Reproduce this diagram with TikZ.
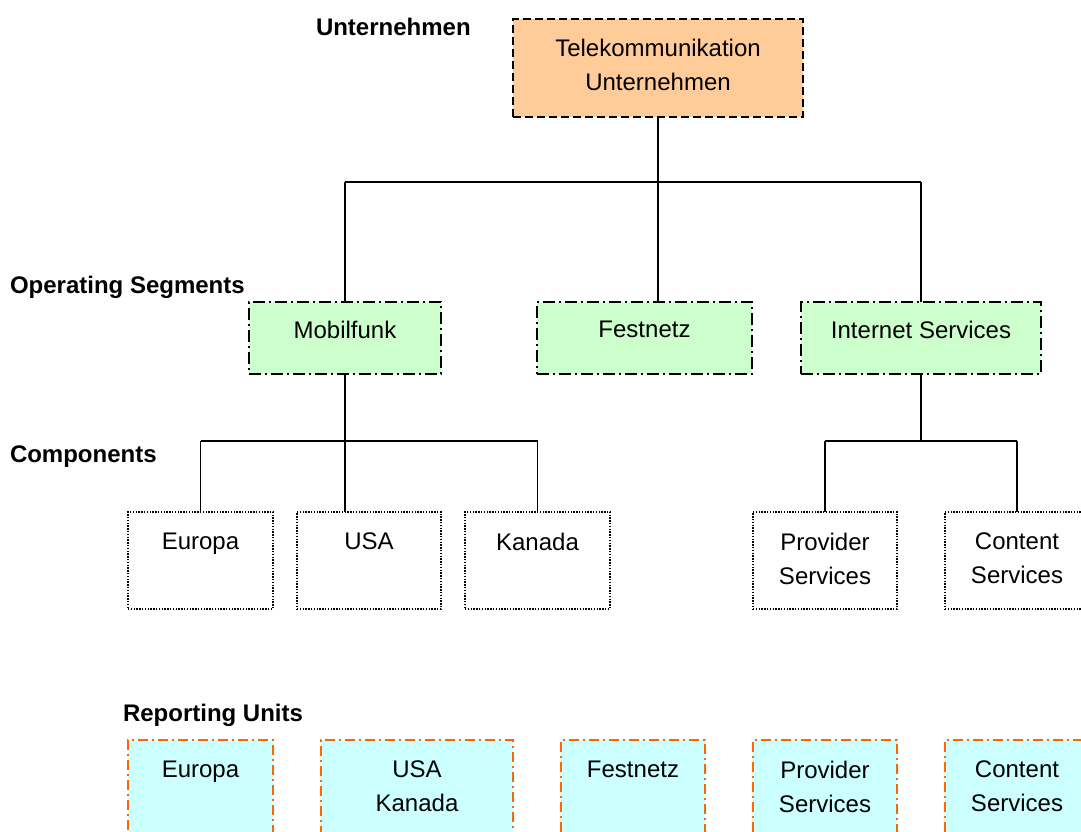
\documentclass[tikz,border=0pt]{standalone}
\usepackage{fontspec}
\setmainfont{Liberation Sans}
\begin{document}
\begin{tikzpicture}[x=1pt,y=-1pt,
  every node/.style={inner sep=0pt, outer sep=0pt},
  box/.style={draw, line width=1.6pt, anchor=north west},
  company/.style={box, fill=orangefill, dash pattern=on 8pt off 4pt},
  segment/.style={box, fill=greenfill, dash pattern=on 12pt off 4pt on 2pt off 4pt},
  component/.style={box, dash pattern=on 1.4pt off 1.4pt},
  unit/.style={box, draw=unitline, fill=cyanfill, dash pattern=on 10pt off 4pt on 2pt off 4pt},
  txt/.style={font=\fontsize{24}{34}\selectfont, align=center, anchor=north},
  level/.style={font=\fontsize{24}{28}\selectfont\bfseries, anchor=base west},
  tree/.style={line width=1.6pt}
]
\definecolor{orangefill}{HTML}{FFCC99}
\definecolor{greenfill}{HTML}{CCFFCC}
\definecolor{cyanfill}{HTML}{CCFFFF}
\definecolor{unitline}{HTML}{FF6600}
\clip (0,0) rectangle (1081,832);

% level captions
\node[level] (lUnt) at (316,36) {Unternehmen};
\node[level] (lSeg) at (10,293) {Operating Segments};
\node[level] (lCom) at (10,462) {Components};
\node[level] (lRep) at (123,721) {Reporting Units};

% company
\node[company, minimum width=290pt, minimum height=98pt] (tel) at (513,19) {};
\node[txt] (telT) at ([yshift=-20pt]tel.north) {Telekommunikation\\Unternehmen};

% operating segments
\node[segment, minimum width=192pt, minimum height=72pt] (mob) at (249,302) {};
\node[txt] (mobT) at ([yshift=-19pt]mob.north) {Mobilfunk};
\node[segment, minimum width=215pt, minimum height=72pt] (fest) at (537,302) {};
\node[txt] (festT) at ([yshift=-19pt]fest.north) {Festnetz};
\node[segment, minimum width=240pt, minimum height=72pt] (inet) at (801,302) {};
\node[txt] (inetT) at ([yshift=-19pt]inet.north) {Internet Services};

% components
\node[component, minimum width=145pt, minimum height=97pt] (ceu) at (128,512) {};
\node[txt] (ceuT) at ([yshift=-21pt]ceu.north) {Europa};
\node[component, minimum width=144pt, minimum height=97pt] (cusa) at (297,512) {};
\node[txt] (cusaT) at ([yshift=-21pt]cusa.north) {USA};
\node[component, minimum width=145pt, minimum height=97pt] (ckan) at (465,512) {};
\node[txt] (ckanT) at ([yshift=-21pt]ckan.north) {Kanada};
\node[component, minimum width=144pt, minimum height=97pt] (cprov) at (753,512) {};
\node[txt] (cprovT) at ([yshift=-21pt]cprov.north) {Provider\\Services};
\node[component, minimum width=144pt, minimum height=97pt] (ccont) at (945,512) {};
\node[txt] (ccontT) at ([yshift=-21pt]ccont.north) {Content\\Services};

% reporting units
\node[unit, minimum width=145pt, minimum height=110pt] (reu) at (128,740) {};
\node[txt] (reuT) at ([yshift=-21pt]reu.north) {Europa};
\node[unit, minimum width=192pt, minimum height=110pt] (rusa) at (321,740) {};
\node[txt] (rusaT) at ([yshift=-21pt]rusa.north) {USA\\Kanada};
\node[unit, minimum width=144pt, minimum height=110pt] (rfest) at (561,740) {};
\node[txt] (rfestT) at ([yshift=-21pt]rfest.north) {Festnetz};
\node[unit, minimum width=144pt, minimum height=110pt] (rprov) at (753,740) {};
\node[txt] (rprovT) at ([yshift=-21pt]rprov.north) {Provider\\Services};
\node[unit, minimum width=144pt, minimum height=110pt] (rcont) at (945,740) {};
\node[txt] (rcontT) at ([yshift=-21pt]rcont.north) {Content\\Services};

% junction points of the tree
\coordinate (jTop) at (658,182);
\coordinate (jMob) at (345,441);
\coordinate (jInt) at (921,441);

% company -> operating segments
\draw[tree] (tel.south) -- (jTop);
\draw[tree] (mob.north |- jTop) -- (inet.north |- jTop);
\draw[tree] (mob.north |- jTop) -- (mob.north);
\draw[tree] (jTop) -- (jTop |- fest.north);
\draw[tree] (inet.north |- jTop) -- (inet.north);

% Mobilfunk -> components
\draw[tree] (mob.south) -- (mob.south |- cusa.north);
\draw[tree] (ceu.north |- jMob) -- (ckan.north |- jMob);
\draw[tree] (ceu.north |- jMob) -- (ceu.north);
\draw[tree] (ckan.north |- jMob) -- (ckan.north);

% Internet Services -> components
\draw[tree] (inet.south) -- (jInt);
\draw[tree] (cprov.north |- jInt) -- (ccont.north |- jInt);
\draw[tree] (cprov.north |- jInt) -- (cprov.north);
\draw[tree] (ccont.north |- jInt) -- (ccont.north);
\end{tikzpicture}
\end{document}
